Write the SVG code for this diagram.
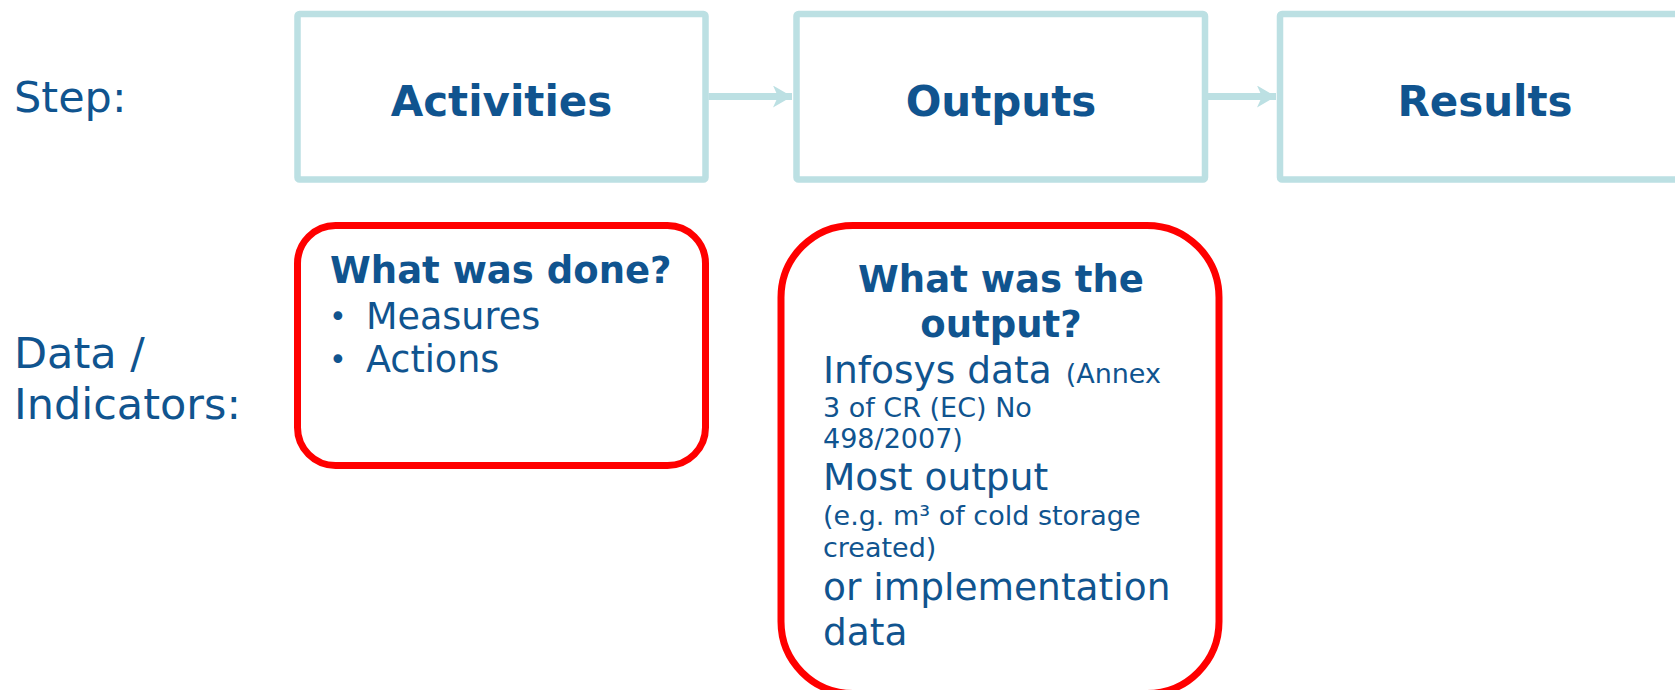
<svg xmlns="http://www.w3.org/2000/svg" width="1675" height="690" viewBox="0 0 1675 690">
<style>
.step{fill:#fff;stroke:#BCE0E3;stroke-width:6.5}
.red{fill:#fff;stroke:#FF0000;stroke-width:7}
.conn{stroke:#BCE0E3;stroke-width:7;fill:none}
text{font-family:"DejaVu Sans","Verdana",sans-serif;fill:#10548F}
.lbl{font-size:43px}
.head{font-size:42px;font-weight:bold;text-anchor:middle}
.q{font-size:37px;font-weight:bold}
.b{font-size:36.5px}
.dot{font-size:30px}
.big{font-size:37.5px}
.sm{font-size:27px}
</style>
<defs>
<marker id="ah" markerUnits="userSpaceOnUse" markerWidth="22" markerHeight="24" refX="19" refY="11" orient="auto">
<path d="M0,0 L19,11 L0,22 L5,11 Z" fill="#BCE0E3"/>
</marker>
</defs>
<g id="labels">
<text class="lbl" x="14" y="112">Step:</text>
<text class="lbl" x="14" y="368">Data /</text>
<text class="lbl" x="14" y="419">Indicators:</text>
</g>
<g id="connectors">
<line class="conn" x1="708.5" y1="96.5" x2="792" y2="96.5" marker-end="url(#ah)"/>
<line class="conn" x1="1208" y1="96.5" x2="1276" y2="96.5" marker-end="url(#ah)"/>
</g>
<g id="activities">
<rect class="step" x="297.5" y="14" width="408" height="165.5" rx="2"/>
<text class="head" x="501.5" y="116">Activities</text>
</g>
<g id="outputs">
<rect class="step" x="796.5" y="14" width="408.5" height="165.5" rx="2"/>
<text class="head" x="1001" y="116">Outputs</text>
</g>
<g id="results">
<rect class="step" x="1280" y="14" width="410" height="165.5" rx="2"/>
<text class="head" x="1485" y="116">Results</text>
</g>
<g id="activities-data">
<rect class="red" x="297.5" y="225.5" width="408" height="240" rx="38"/>
<text class="q" x="330" y="283">What was done?</text>
<text class="dot" x="329" y="327">•</text>
<text class="b" x="366" y="329">Measures</text>
<text class="dot" x="329" y="370">•</text>
<text class="b" x="366" y="372">Actions</text>
</g>
<g id="outputs-data">
<rect class="red" x="781" y="225.5" width="438" height="468" rx="72"/>
<text class="q" x="1001" y="292" text-anchor="middle">What was the</text>
<text class="q" x="1001" y="337" text-anchor="middle">output?</text>
<text class="big" x="823" y="383">Infosys data<tspan class="sm" dx="14">(Annex</tspan></text>
<text class="sm" x="823" y="417">3 of CR (EC) No</text>
<text class="sm" x="823" y="448">498/2007)</text>
<text class="big" x="823" y="490">Most output</text>
<text class="sm" x="823" y="525">(e.g. m³ of cold storage</text>
<text class="sm" x="823" y="557">created)</text>
<text class="big" x="823" y="600">or implementation</text>
<text class="big" x="823" y="645">data</text>
</g>
</svg>
